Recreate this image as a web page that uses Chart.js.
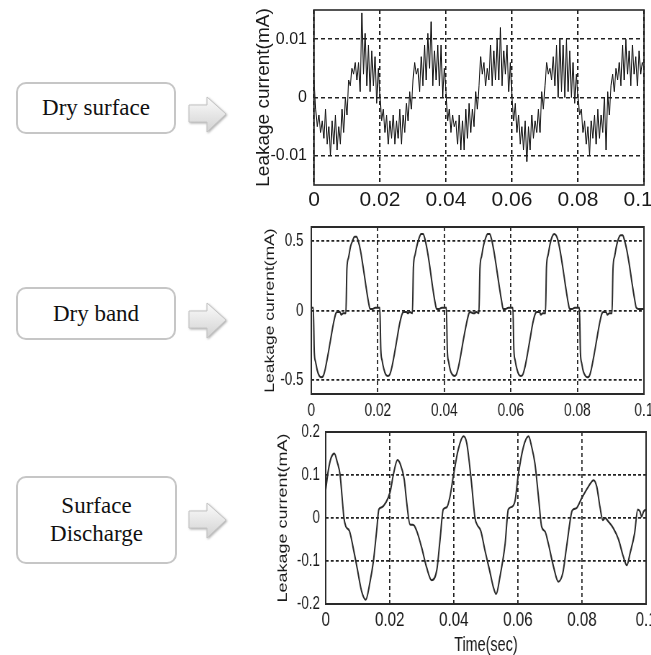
<!DOCTYPE html>
<html>
<head>
<meta charset="utf-8">
<script src="https://cdn.jsdelivr.net/npm/chart.js@4/dist/chart.umd.min.js"></script>
<style>
  html, body { margin: 0; padding: 0; background: #fff; overflow: hidden; }
  body { width: 651px; height: 655px; position: relative; }
  .box {
    position: absolute; box-sizing: border-box;
    border: 2px solid #c6c6c6; border-radius: 10px; background: #fff;
    display: flex; align-items: center; justify-content: center; text-align: center;
    font-family: 'Liberation Serif', 'Times New Roman', serif; font-size: 23px; color: #111;
  }
  .arrow { position: absolute; width: 46px; height: 44px; }
  .wrap { position: absolute; transform-origin: 0 0; }
  canvas { display: block; }
</style>
</head>
<body>

<div class="box" style="left:16px; top:82px; width:160px; height:52px;">Dry surface</div>
<div class="box" style="left:16px; top:287px; width:160px; height:53px;">Dry band</div>
<div class="box" style="left:16px; top:476px; width:161px; height:88px; line-height:28px;">Surface<br>Discharge</div>

<svg class="arrow" style="left:186px; top:94px;" viewBox="0 0 46 44">
  <defs>
    <linearGradient id="ag" x1="0" y1="0" x2="0" y2="1">
      <stop offset="0" stop-color="#fbfbfb"/>
      <stop offset="1" stop-color="#d2d2d2"/>
    </linearGradient>
    <filter id="sh" x="-20%" y="-20%" width="150%" height="150%">
      <feDropShadow dx="1" dy="1" stdDeviation="1" flood-color="#9a9a9a" flood-opacity="0.8"/>
    </filter>
  </defs>
  <polygon points="3,11 21,11 21,3 40,20 21,38 21,28 3,28" fill="url(#ag)" stroke="#c4c4c4" stroke-width="1" filter="url(#sh)"/>
</svg>
<svg class="arrow" style="left:186px; top:300px;" viewBox="0 0 46 44">
  <polygon points="3,11 21,11 21,3 40,20 21,38 21,28 3,28" fill="url(#ag)" stroke="#c4c4c4" stroke-width="1" filter="url(#sh)"/>
</svg>
<svg class="arrow" style="left:186px; top:500px;" viewBox="0 0 46 44">
  <polygon points="3,11 21,11 21,3 40,20 21,38 21,28 3,28" fill="url(#ag)" stroke="#c4c4c4" stroke-width="1" filter="url(#sh)"/>
</svg>

<div class="wrap" style="left:240px; top:0px;"><canvas id="c1" width="411" height="215"></canvas></div>
<div class="wrap" style="left:240px; top:215px; transform:scaleX(0.72);"><canvas id="c2" width="571" height="215"></canvas></div>
<div class="wrap" style="left:240px; top:415px; transform:scaleX(0.72);"><canvas id="c3" width="571" height="245"></canvas></div>

<script>
// ---------- shared axis data ----------
const xTicks = [0, 0.02, 0.04, 0.06, 0.08, 0.1];
const xTickLabels = ['0', '0.02', '0.04', '0.06', '0.08', '0.1'];
const drySurfaceXLabels = ['0', '0.02', '0.04', '0.06', '0.08', '0.1  '];
const yAxisTitle = 'Leakage current(mA)';
const xAxisTitle = 'Time(sec)';

// ---------- Dry surface (sampled every 0.5 ms) ----------
const drySurfaceStep = 0.0005;
const drySurfaceCurrent = [
  0.003, -0.002, -0.005, -0.003, -0.006, -0.004, -0.007, -0.002, -0.008, -0.005,
  -0.010, -0.004, -0.008, -0.003, -0.009, -0.005, -0.008, -0.002, -0.006, 0.000,
  -0.003, 0.003, 0.002, 0.005, 0.004, 0.006, 0.003, 0.006, 0.001, 0.0145,
  0.004, 0.011, 0.002, 0.009, 0.001, 0.008, 0.002, 0.007, -0.001, 0.005,
  0.000, -0.004, -0.002, -0.006, -0.003, -0.008, -0.004, -0.007, -0.003, -0.008,
  -0.004, -0.007, -0.002, -0.008, -0.003, -0.006, -0.001, -0.004, 0.001, -0.002,
  0.003, 0.006, 0.004, 0.005, 0.001, 0.007, 0.002, 0.009, 0.003, 0.011,
  0.005, 0.013, 0.002, 0.008, 0.003, 0.009, 0.002, 0.009, 0.000, 0.005,
  0.001, -0.004, -0.002, -0.006, -0.003, -0.005, -0.004, -0.008, -0.003, -0.009,
  -0.004, -0.009, -0.002, -0.007, -0.001, -0.006, -0.002, -0.005, 0.001, -0.002,
  0.002, 0.007, 0.004, 0.006, 0.002, 0.005, 0.003, 0.009, 0.002, 0.008,
  0.003, 0.010, 0.003, 0.012, 0.002, 0.008, 0.004, 0.009, 0.001, 0.006,
  0.000, -0.004, -0.001, -0.006, -0.003, -0.008, -0.005, -0.009, -0.004, -0.011,
  -0.005, -0.009, -0.003, -0.007, -0.004, -0.006, -0.002, -0.006, 0.001, -0.002,
  0.002, 0.006, 0.004, 0.005, 0.003, 0.007, 0.002, 0.009, 0.000, 0.010,
  0.001, 0.009, 0.000, 0.010, 0.001, 0.008, 0.000, 0.006, -0.001, 0.004,
  0.000, -0.003, -0.002, -0.006, -0.004, -0.008, -0.005, -0.010, -0.004, -0.007,
  -0.003, -0.008, -0.002, -0.007, -0.003, -0.006, 0.000, -0.009, 0.001, -0.003,
  0.002, 0.004, 0.001, 0.005, 0.003, 0.006, 0.002, 0.009, 0.003, 0.010,
  0.004, 0.008, 0.002, 0.009, 0.004, 0.007, 0.002, 0.008, 0.004, 0.006,
  0.005
];
const drySurfaceYTicks = [-0.01, 0, 0.01];
const drySurfaceYLabels = ['-0.01', '0', '0.01'];

// ---------- Dry band ----------
const dryBandTime = [
  0, 0.0006, 0.0009, 0.0013, 0.0018, 0.0024, 0.003, 0.0036, 0.0042, 0.005, 0.0058, 0.0066, 0.0074, 0.0078, 0.0086, 0.009,
  0.0096, 0.0104, 0.0107, 0.0112, 0.0118, 0.0124, 0.013, 0.0136, 0.0141, 0.0148, 0.0156, 0.0164, 0.0172, 0.0177, 0.0184, 0.0192,
  0.02, 0.0206, 0.0209, 0.0213, 0.0218, 0.0224, 0.023, 0.0236, 0.0242, 0.025, 0.0258, 0.0266, 0.0274, 0.0278, 0.0286, 0.029,
  0.0296, 0.0304, 0.0307, 0.0312, 0.0318, 0.0324, 0.033, 0.0336, 0.0341, 0.0348, 0.0356, 0.0364, 0.0372, 0.0377, 0.0384, 0.0392,
  0.04, 0.0406, 0.0409, 0.0413, 0.0418, 0.0424, 0.043, 0.0436, 0.0442, 0.045, 0.0458, 0.0466, 0.0474, 0.0478, 0.0486, 0.049,
  0.0496, 0.0504, 0.0507, 0.0512, 0.0518, 0.0524, 0.053, 0.0536, 0.0541, 0.0548, 0.0556, 0.0564, 0.0572, 0.0577, 0.0584, 0.0592,
  0.06, 0.0606, 0.0609, 0.0613, 0.0618, 0.0624, 0.063, 0.0636, 0.0642, 0.065, 0.0658, 0.0666, 0.0674, 0.0678, 0.0686, 0.069,
  0.0696, 0.0704, 0.0707, 0.0712, 0.0718, 0.0724, 0.073, 0.0736, 0.0741, 0.0748, 0.0756, 0.0764, 0.0772, 0.0777, 0.0784, 0.0792,
  0.08, 0.0806, 0.0809, 0.0813, 0.0818, 0.0824, 0.083, 0.0836, 0.0842, 0.085, 0.0858, 0.0866, 0.0874, 0.0878, 0.0886, 0.089,
  0.0896, 0.0904, 0.0907, 0.0912, 0.0918, 0.0924, 0.093, 0.0936, 0.0941, 0.0948, 0.0956, 0.0964, 0.0972, 0.0977, 0.0984, 0.0992,
  0.1
];
const dryBandCurrent = [
  0.02, 0.02, -0.30, -0.37, -0.43, -0.47, -0.48, -0.47, -0.42, -0.32, -0.21, -0.10, -0.02, -0.01, -0.01, -0.03,
  -0.02, -0.02, 0.30, 0.38, 0.46, 0.50, 0.53, 0.53, 0.50, 0.43, 0.31, 0.18, 0.06, 0.01, 0.01, 0.02,
  0.02, 0.02, -0.28, -0.36, -0.42, -0.46, -0.47, -0.46, -0.41, -0.31, -0.20, -0.09, -0.02, -0.01, -0.01, -0.02,
  -0.01, -0.02, 0.31, 0.40, 0.47, 0.52, 0.55, 0.55, 0.52, 0.44, 0.32, 0.18, 0.06, 0.01, 0.01, 0.02,
  0.02, 0.02, -0.29, -0.37, -0.43, -0.46, -0.47, -0.46, -0.41, -0.31, -0.20, -0.10, -0.02, -0.01, -0.02, -0.02,
  -0.01, -0.02, 0.30, 0.39, 0.47, 0.52, 0.55, 0.55, 0.52, 0.44, 0.32, 0.19, 0.07, 0.01, 0.01, 0.02,
  0.02, 0.02, -0.28, -0.36, -0.42, -0.46, -0.47, -0.46, -0.41, -0.31, -0.20, -0.09, -0.02, -0.01, -0.01, -0.03,
  -0.02, -0.02, 0.31, 0.40, 0.48, 0.53, 0.55, 0.54, 0.51, 0.43, 0.31, 0.18, 0.06, 0.01, 0.01, 0.02,
  0.02, 0.02, -0.30, -0.38, -0.44, -0.47, -0.48, -0.47, -0.42, -0.32, -0.21, -0.10, -0.02, -0.01, -0.01, -0.03,
  -0.02, -0.02, 0.30, 0.39, 0.47, 0.52, 0.54, 0.54, 0.51, 0.44, 0.33, 0.20, 0.08, 0.02, 0.01, 0.01,
  0.01
];
const dryBandYTicks = [-0.5, 0, 0.5];
const dryBandYLabels = ['-0.5', '0', '0.5'];

// ---------- Surface discharge ----------
const dischargeTime = [
  0, 0.0008, 0.0017, 0.0027, 0.0036, 0.0045, 0.0051, 0.0057, 0.0063, 0.0074,
  0.0086, 0.0099, 0.0112, 0.0125, 0.0138, 0.0149, 0.0159, 0.0166, 0.0175, 0.0187,
  0.0201, 0.0211, 0.0224, 0.0232, 0.0245, 0.0253, 0.0263, 0.0274, 0.0284, 0.03,
  0.0315, 0.0331, 0.0347, 0.0357, 0.0367, 0.0378, 0.0388, 0.0399, 0.0414, 0.043,
  0.044, 0.0454, 0.0466, 0.0473, 0.0484, 0.0497, 0.0511, 0.0523, 0.0532, 0.0544,
  0.056, 0.057, 0.0581, 0.0591, 0.0601, 0.0617, 0.0633, 0.0643, 0.0653, 0.0664,
  0.0674, 0.0685, 0.0695, 0.0711, 0.0726, 0.074, 0.0752, 0.0768, 0.0773, 0.0784,
  0.0799, 0.082, 0.0836, 0.0846, 0.0856, 0.0865, 0.0872, 0.0882, 0.0898, 0.0914,
  0.0929, 0.094, 0.095, 0.0964, 0.0974, 0.0981, 0.0986, 0.0992, 0.1
];
const dischargeCurrent = [
  0.065, 0.11, 0.14, 0.15, 0.13, 0.10, 0.05, 0.0, -0.02, -0.03,
  -0.07, -0.12, -0.17, -0.19, -0.15, -0.10, -0.03, 0.02, 0.025, 0.035,
  0.06, 0.10, 0.135, 0.127, 0.09, 0.035, -0.015, -0.016, -0.03, -0.07,
  -0.115, -0.145, -0.12, -0.05, 0.02, 0.025, 0.05, 0.10, 0.16, 0.19,
  0.175, 0.09, 0.0, -0.016, -0.03, -0.075, -0.12, -0.16, -0.177, -0.136,
  -0.06, 0.02, 0.026, 0.04, 0.10, 0.165, 0.19, 0.165, 0.127, 0.05,
  -0.02, -0.032, -0.06, -0.113, -0.148, -0.128, -0.066, 0.015, 0.02, 0.024,
  0.046, 0.073, 0.088, 0.073, 0.026, -0.005, 0.0, -0.008, -0.024, -0.05,
  -0.09, -0.11, -0.082, -0.036, 0.02, 0.015, 0.003, 0.015, 0.02
];
const dischargeYTicks = [-0.2, -0.1, 0, 0.1, 0.2];
const dischargeYLabels = ['-0.2', '-0.1', '0', '0.1', '0.2'];

// ---------- helpers ----------
const FONT = "'Liberation Sans', Arial, sans-serif";
const TXT = '#1a1a1a';

const frame = {
  id: 'frame',
  afterDatasetsDraw(chart, args, opts) {
    const a = chart.chartArea, ctx = chart.ctx;
    ctx.save();
    ctx.strokeStyle = '#2a2a2a';
    ctx.lineWidth = opts.width || 1.5;
    ctx.strokeRect(a.left, a.top, a.right - a.left, a.bottom - a.top);
    ctx.restore();
  }
};

function makeChart(id, cfg) {
  const data = cfg.x.map((t, i) => ({ x: t, y: cfg.y[i] }));
  const xLabels = cfg.xLabels || xTickLabels;
  return new Chart(document.getElementById(id), {
    type: 'line',
    data: { datasets: [{
      data,
      borderColor: cfg.color,
      borderWidth: cfg.lineWidth,
      pointRadius: 0,
      stepped: cfg.stepped || false,
      cubicInterpolationMode: cfg.smooth ? 'monotone' : 'default',
      tension: 0,
      fill: false
    }]},
    plugins: [frame],
    options: {
      responsive: false,
      animation: false,
      devicePixelRatio: 1,
      layout: { padding: { left: 0, top: cfg.padTop, right: cfg.padRight, bottom: 0 } },
      plugins: { legend: { display: false }, tooltip: { enabled: false }, frame: { width: cfg.frameWidth } },
      scales: {
        x: {
          type: 'linear', min: 0, max: 0.1,
          afterBuildTicks: s => { s.ticks = xTicks.map(v => ({ value: v })); },
          afterFit: s => { s.height = cfg.xAxisHeight; s.paddingLeft = 0; s.paddingRight = 0; },
          ticks: {
            autoSkip: false, maxRotation: 0, minRotation: 0,
            padding: cfg.xTickPad, color: TXT,
            font: { family: FONT, size: cfg.xTickSize },
            callback: (v, i) => xLabels[i]
          },
          grid: { color: '#222', lineWidth: cfg.gridWidth, drawTicks: false },
          border: { display: false, dash: [4, 3] },
          title: cfg.xTitle ? {
            display: true, text: xAxisTitle, color: TXT,
            font: { family: FONT, size: cfg.xTitleSize },
            padding: { top: 0, bottom: cfg.xTitlePad }
          } : { display: false }
        },
        y: {
          type: 'linear', min: cfg.yMin, max: cfg.yMax,
          afterBuildTicks: s => { s.ticks = cfg.yTicks.map(v => ({ value: v })); },
          afterFit: s => { s.width = cfg.yAxisWidth; s.paddingTop = 0; s.paddingBottom = 0; },
          ticks: {
            autoSkip: false, padding: cfg.yTickPad, color: TXT,
            font: { family: FONT, size: cfg.yTickSize },
            callback: (v, i) => cfg.yLabels[i]
          },
          grid: { color: '#222', lineWidth: cfg.gridWidth, drawTicks: false },
          border: { display: false, dash: [4, 3] },
          title: {
            display: true, text: yAxisTitle, color: TXT,
            font: { family: FONT, size: cfg.yTitleSize },
            padding: { top: cfg.yTitlePad, bottom: 0 }
          }
        }
      }
    }
  });
}

// Dry surface
makeChart('c1', {
  x: drySurfaceCurrent.map((_, i) => i * drySurfaceStep),
  y: drySurfaceCurrent, xLabels: drySurfaceXLabels,
  color: '#1c1c1c', lineWidth: 1, stepped: false, smooth: false,
  yMin: -0.015, yMax: 0.015, yTicks: drySurfaceYTicks, yLabels: drySurfaceYLabels,
  padTop: 10, padRight: 7, xAxisHeight: 30, yAxisWidth: 74,
  xTickSize: 21, xTickPad: 3, yTickSize: 16, yTickPad: 7,
  yTitleSize: 19, yTitlePad: 12, gridWidth: 1.5, frameWidth: 1.6
});

// Dry band
makeChart('c2', {
  x: dryBandTime, y: dryBandCurrent,
  color: '#2a2a2a', lineWidth: 2, smooth: true,
  yMin: -0.6, yMax: 0.6, yTicks: dryBandYTicks, yLabels: dryBandYLabels,
  padTop: 12, padRight: 10, xAxisHeight: 36, yAxisWidth: 99,
  xTickSize: 19, xTickPad: 5, yTickSize: 18.5, yTickPad: 11,
  yTitleSize: 17.5, yTitlePad: 32, gridWidth: 1.8, frameWidth: 2
});

// Surface discharge
makeChart('c3', {
  x: dischargeTime, y: dischargeCurrent,
  color: '#2a2a2a', lineWidth: 2, smooth: true,
  yMin: -0.2, yMax: 0.2, yTicks: dischargeYTicks, yLabels: dischargeYLabels,
  padTop: 17, padRight: 7, xAxisHeight: 56, yAxisWidth: 119,
  xTickSize: 21, xTickPad: 4, yTickSize: 18.5, yTickPad: 8,
  yTitleSize: 18, yTitlePad: 49, gridWidth: 1.8, frameWidth: 2,
  xTitle: true, xTitleSize: 20, xTitlePad: 3
});
</script>
</body>
</html>
